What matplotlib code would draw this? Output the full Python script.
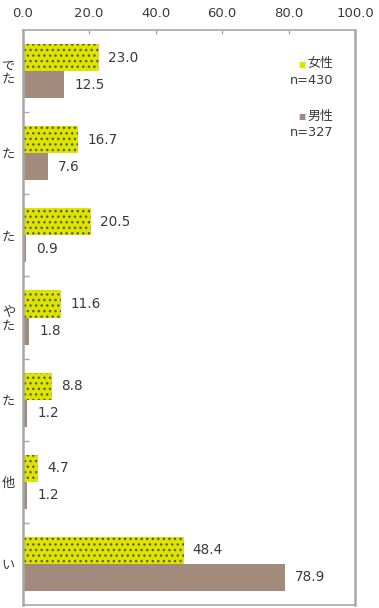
import matplotlib
matplotlib.use("Agg")
import matplotlib.pyplot as plt
import numpy as np

categories = ["で\nた", "た", "た", "や\nた", "た", "他", "い"]
female = [23.0, 16.7, 20.5, 11.6, 8.8, 4.7, 48.4]
male = [12.5, 7.6, 0.9, 1.8, 1.2, 1.2, 78.9]
xticks = [0, 20, 40, 60, 80, 100]
xtick_labels = ["0.0", "20.0", "40.0", "60.0", "80.0", "100.0"]
legend_female = ("女性", "n=430")
legend_male = ("男性", "n=327")

FEMALE_C = "#DCE400"
MALE_C = "#A28B7C"
SPINE_C = "#A8A8A8"
TEXT_C = "#3A3A3A"
FONT = ["DejaVu Sans", "Noto Sans CJK JP"]

plt.rcParams["font.family"] = FONT
plt.rcParams["hatch.linewidth"] = 1.0

fig = plt.figure(figsize=(3.79, 6.08), dpi=100)
ax = fig.add_axes([22.7 / 379, 1 - 605 / 608, (355 - 22.7) / 379, (605 - 30) / 608])

y = np.arange(len(categories))
h = 0.33
ax.barh(y - h / 2, female, height=h, color=FEMALE_C, edgecolor="#5E5E30",
        linewidth=0, hatch="...")
ax.barh(y + h / 2, male, height=h, color=MALE_C, linewidth=0)

for i, (f, m) in enumerate(zip(female, male)):
    ax.annotate(f"{f:.1f}", (f, i - h / 2), xytext=(6.5, 0), textcoords="offset points",
                va="center", ha="left", fontsize=9.8, color=TEXT_C)
    ax.annotate(f"{m:.1f}", (m, i + h / 2), xytext=(7.5, 0), textcoords="offset points",
                va="center", ha="left", fontsize=9.8, color=TEXT_C)

ax.set_xlim(0, 100)
ax.set_ylim(len(categories) - 0.5, -0.5)

ax.xaxis.tick_top()
ax.set_xticks(xticks)
ax.set_xticklabels(xtick_labels, fontsize=9.5, color=TEXT_C)
ax.tick_params(axis="x", direction="in", length=3, width=1, color=SPINE_C, pad=7)

ax.set_yticks(y)
ax.set_yticklabels(categories, fontsize=9.5, color=TEXT_C, linespacing=1.05)
ax.tick_params(axis="y", which="major", length=0, pad=5.5)
ax.set_yticks(np.arange(0.5, len(categories) - 0.5, 1), minor=True)
ax.tick_params(axis="y", which="minor", direction="in", length=4, width=1, color=SPINE_C)

for side in ["left", "right"]:
    ax.spines[side].set_color(SPINE_C)
    ax.spines[side].set_linewidth(1.8)
for side in ["top", "bottom"]:
    ax.spines[side].set_color(SPINE_C)
    ax.spines[side].set_linewidth(1.2)

# legend as text
def px2ax(xp, yp):
    return ((xp - 22.7) / (355 - 22.7), 1 - (yp - 30) / (605 - 30))

for (lab, n), col, yp in [(legend_female, FEMALE_C, 64), (legend_male, MALE_C, 116)]:
    x1, y1 = px2ax(333, yp)
    ax.text(x1, y1, lab, transform=ax.transAxes, ha="right", va="center",
            fontsize=9.3, color=TEXT_C)
    xm, _ = px2ax(306, yp)
    ax.text(xm, y1, "■", transform=ax.transAxes, ha="right", va="center",
            fontsize=5.5, color=col)
    x2, y2 = px2ax(333, yp + 17)
    ax.text(x2, y2, n, transform=ax.transAxes, ha="right", va="center",
            fontsize=9.3, color=TEXT_C)

fig.savefig("out.png", dpi=100)
